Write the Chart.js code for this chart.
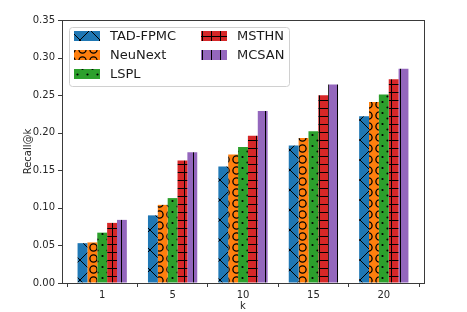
<!DOCTYPE html>
<html>
<head>
<meta charset="utf-8">
<script src="https://cdn.jsdelivr.net/npm/chart.js@4/dist/chart.umd.min.js"></script>
<style>
  html, body { margin: 0; padding: 0; background: #fff; }
  canvas { display: block; }
</style>
</head>
<body>
<canvas id="recallChart" width="467" height="312"></canvas>
<script>
// values
const categories = ['1', '5', '10', '15', '20'];
const tadFpmc = [0.053, 0.090, 0.155, 0.183, 0.222];
const neuNext = [0.054, 0.104, 0.171, 0.193, 0.241];
const lspl    = [0.067, 0.113, 0.181, 0.202, 0.251];
const msthn   = [0.080, 0.163, 0.196, 0.250, 0.271];
const mcsan   = [0.084, 0.174, 0.229, 0.264, 0.285];
const seriesNames = ['TAD-FPMC', 'NeuNext', 'LSPL', 'MSTHN', 'MCSAN'];
const yTicks = [0, 0.05, 0.10, 0.15, 0.20, 0.25, 0.30, 0.35];

const FONT = "'DejaVu Sans', sans-serif";
const X_MARGIN = 5; // matplotlib leaves a little room left/right of the bar groups

function makePattern(bg, w, h, drawFn) {
    const c = document.createElement('canvas');
    c.width = w; c.height = h;
    const g = c.getContext('2d');
    g.fillStyle = bg;
    g.fillRect(0, 0, w, h);
    g.strokeStyle = '#000';
    g.fillStyle = '#000';
    g.lineWidth = 1;
    drawFn(g, w, h);
    return document.getElementById('recallChart').getContext('2d').createPattern(c, 'repeat');
}

const patterns = [
    makePattern('#1f77b4', 20, 20, function (g, w, h) {
        g.beginPath();
        g.moveTo(0, 0); g.lineTo(w, h);
        g.moveTo(w, 0); g.lineTo(0, h);
        g.stroke();
    }),
    makePattern('#ff7f0e', 11, 11, function (g) {
        g.lineWidth = 1.3;
        g.beginPath();
        g.arc(5.5, 5.5, 3.6, 0, Math.PI * 2);
        g.stroke();
    }),
    makePattern('#2ca02c', 10, 11, function (g) {
        g.beginPath(); g.arc(2.5, 3, 1.1, 0, Math.PI * 2); g.fill();
        g.beginPath(); g.arc(7.5, 8.5, 1.1, 0, Math.PI * 2); g.fill();
    }),
    makePattern('#d62728', 9, 8, function (g) {
        g.beginPath();
        g.moveTo(0, 4.5); g.lineTo(9, 4.5);
        g.moveTo(4.5, 0); g.lineTo(4.5, 8);
        g.stroke();
    }),
    makePattern('#9467bd', 9, 8, function (g) {
        g.beginPath();
        g.moveTo(4.5, 0); g.lineTo(4.5, 8);
        g.stroke();
    })
];

const seriesValues = [tadFpmc, neuNext, lspl, msthn, mcsan];

const datasets = seriesNames.map(function (name, i) {
    return {
        label: name,
        data: seriesValues[i],
        backgroundColor: patterns[i],
        borderWidth: 0,
        categoryPercentage: 0.7,
        barPercentage: 1.0
    };
});

// axes frame, y tick marks and legend box inside the plot, like matplotlib
const framePlugin = {
    id: 'frame',
    afterDraw: function (chart) {
        const ctx = chart.ctx;
        const a = chart.chartArea;
        const left = Math.round(a.left) - X_MARGIN;
        const right = Math.round(a.right) + X_MARGIN;
        const top = Math.round(a.top);
        const bottom = Math.round(a.bottom);
        ctx.save();
        ctx.strokeStyle = '#3a3a3a';
        ctx.lineWidth = 1;
        ctx.strokeRect(left + 0.5, top + 0.5, right - left, bottom - top);

        const ys = chart.scales.y;
        ctx.beginPath();
        yTicks.forEach(function (v) {
            const py = Math.round(ys.getPixelForValue(v)) + 0.5;
            ctx.moveTo(left - 4, py);
            ctx.lineTo(left, py);
        });
        ctx.stroke();

        // legend
        const lx = 69, ly = 27, lw = 220, lh = 59;
        ctx.fillStyle = 'rgba(255,255,255,0.85)';
        ctx.strokeStyle = '#d0d0d0';
        ctx.beginPath();
        ctx.roundRect(lx + 0.5, ly + 0.5, lw, lh, 3);
        ctx.fill();
        ctx.stroke();

        const cols = [{ sx: 74, tx: 110 }, { sx: 201, tx: 237 }];
        const rows = [36, 55, 74];
        ctx.font = '13px ' + FONT;
        ctx.textBaseline = 'middle';
        ctx.textAlign = 'left';
        seriesNames.forEach(function (name, i) {
            const col = cols[i < 3 ? 0 : 1];
            const y = rows[i < 3 ? i : i - 3];
            ctx.fillStyle = patterns[i];
            ctx.fillRect(col.sx, y - 5, 26, 10);
            ctx.fillStyle = '#1a1a1a';
            ctx.fillText(name, col.tx, y + 1);
        });
        ctx.restore();
    }
};

new Chart(document.getElementById('recallChart').getContext('2d'), {
    type: 'bar',
    data: {
        labels: categories,
        datasets: datasets
    },
    options: {
        responsive: false,
        animation: false,
        layout: {
            padding: { left: 20, top: 20, right: 43 + X_MARGIN, bottom: 0 }
        },
        plugins: {
            legend: { display: false },
            tooltip: { enabled: false }
        },
        scales: {
            x: {
                grid: {
                    drawOnChartArea: false,
                    drawTicks: true,
                    tickLength: 4,
                    tickColor: '#3a3a3a'
                },
                border: { display: false },
                ticks: {
                    color: '#262626',
                    font: { family: FONT, size: 10 },
                    padding: 2
                },
                title: {
                    display: true,
                    text: 'k',
                    color: '#262626',
                    font: { family: FONT, size: 10 },
                    padding: { top: 0, bottom: 0 }
                },
                afterFit: function (scale) { scale.height = 29; }
            },
            y: {
                min: 0,
                max: 0.35,
                afterBuildTicks: function (scale) {
                    scale.ticks = yTicks.map(function (v) { return { value: v }; });
                },
                grid: {
                    drawOnChartArea: false,
                    drawTicks: false
                },
                border: { display: false },
                ticks: {
                    color: '#262626',
                    font: { family: FONT, size: 10 },
                    padding: 12,
                    callback: function (v) { return Number(v).toFixed(2); }
                },
                title: {
                    display: true,
                    text: 'Recall@k',
                    color: '#262626',
                    font: { family: FONT, size: 10 },
                    padding: { top: 2, bottom: 0 }
                },
                afterFit: function (scale) { scale.width = 42 + X_MARGIN; }
            }
        }
    },
    plugins: [framePlugin]
});
</script>
</body>
</html>
